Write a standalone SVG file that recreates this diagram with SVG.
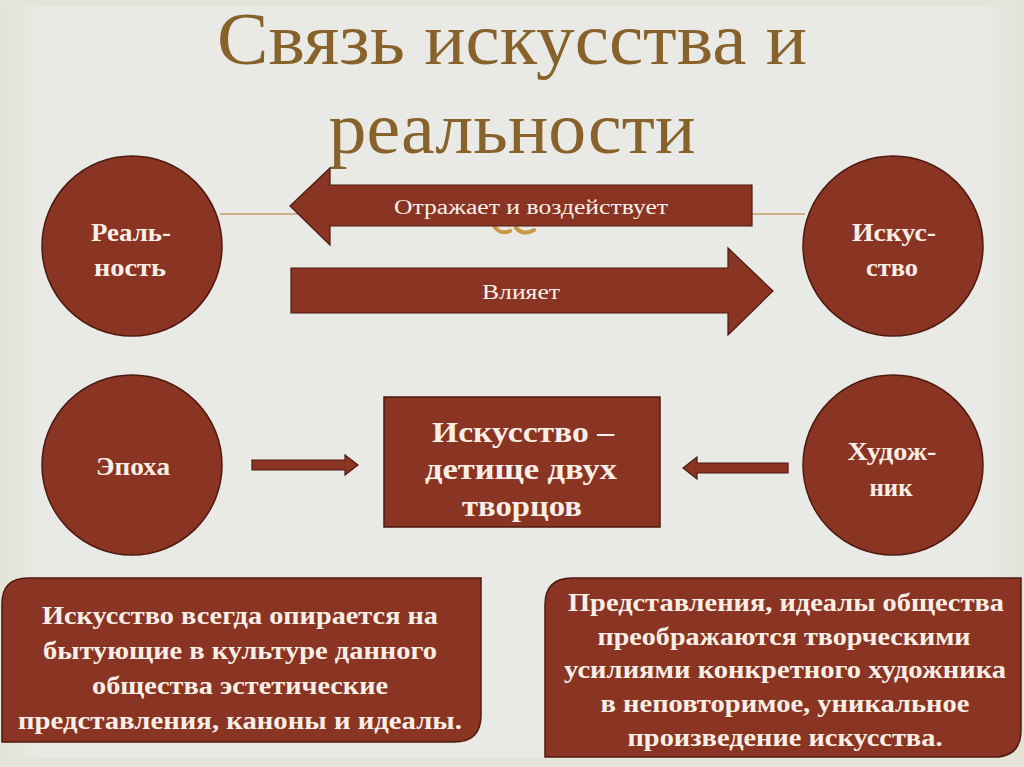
<svg xmlns="http://www.w3.org/2000/svg" width="1024" height="767" viewBox="0 0 1024 767">
<defs>
<style>
.shape{fill:#8a3524;stroke:#4e1a10;stroke-width:1.5}
.title{font-family:"Liberation Serif",serif;fill:#87622b;font-size:74px;text-anchor:middle}
.lbl{font-family:"Liberation Serif",serif;fill:#f7efe6;text-anchor:middle}
.b{font-weight:bold}
.conn{fill:#8a3524;stroke:#4e1a10;stroke-width:1.2}
</style>
<linearGradient id="frame" x1="0" y1="0" x2="1" y2="0">
<stop offset="0" stop-color="#e3e3d6"/>
<stop offset="0.04" stop-color="#e9e9e6"/>
<stop offset="0.96" stop-color="#e9e9e6"/>
<stop offset="1" stop-color="#e2e2d6"/>
</linearGradient>
</defs>
<rect x="0" y="0" width="1024" height="767" fill="url(#frame)"/>
<rect x="0" y="0" width="1024" height="6" fill="#e4e4d8"/>
<rect x="0" y="758" width="1024" height="9" fill="#e4e4d8"/>

<g id="title">
<text class="title" x="512" y="64" textLength="590" lengthAdjust="spacingAndGlyphs">Связь искусства и</text>
<text class="title" x="512" y="153" textLength="367" lengthAdjust="spacingAndGlyphs">реальности</text>
</g>

<g id="decor">
<line x1="220" y1="214" x2="805" y2="214" stroke="#cbb08a" stroke-width="2"/>
<path d="M494 226 q6 9 16 5 M516 228 q8 8 18 2" fill="none" stroke="#c99a45" stroke-width="4" stroke-linecap="round"/>
</g>

<g id="connectors">
<g id="arrow-reflects">
<polygon class="conn" points="290,206 330,168 330,185 752,185 752,226 330,226 330,245"/>
<text class="lbl" x="531" y="214" font-size="20" textLength="274" lengthAdjust="spacingAndGlyphs">Отражает и воздействует</text>
</g>
<g id="arrow-influences">
<polygon class="conn" points="291,268 728,268 728,248 773,291 728,335 728,313 291,313"/>
<text class="lbl" x="521" y="299" font-size="20" textLength="78" lengthAdjust="spacingAndGlyphs">Влияет</text>
</g>
<polygon id="arrow-epoch" class="conn" points="252,460 345,460 345,455 358,465 345,475 345,470 252,470"/>
<polygon id="arrow-artist" class="conn" points="788,463 697,463 697,457 683,468 697,479 697,473 788,473"/>
</g>

<g id="node-reality">
<circle class="shape" cx="132" cy="246" r="90"/>
<text class="lbl b" x="131" y="241" font-size="26" textLength="80" lengthAdjust="spacingAndGlyphs">Реаль-</text>
<text class="lbl b" x="130" y="276" font-size="26" textLength="72" lengthAdjust="spacingAndGlyphs">ность</text>
</g>

<g id="node-art">
<circle class="shape" cx="893" cy="246" r="90"/>
<text class="lbl b" x="894" y="241" font-size="26" textLength="84" lengthAdjust="spacingAndGlyphs">Искус-</text>
<text class="lbl b" x="892" y="276" font-size="26" textLength="52" lengthAdjust="spacingAndGlyphs">ство</text>
</g>

<g id="node-epoch">
<ellipse class="shape" cx="132" cy="465" rx="90" ry="90"/>
<text class="lbl b" x="133" y="475" font-size="26" textLength="74" lengthAdjust="spacingAndGlyphs">Эпоха</text>
</g>

<g id="node-artist">
<ellipse class="shape" cx="893" cy="465" rx="90" ry="90"/>
<text class="lbl b" x="892" y="460" font-size="26" textLength="89" lengthAdjust="spacingAndGlyphs">Худож-</text>
<text class="lbl b" x="891" y="496" font-size="26" textLength="43" lengthAdjust="spacingAndGlyphs">ник</text>
</g>

<g id="node-center">
<rect class="shape" x="384" y="397" width="276" height="130"/>
<text class="lbl b" x="523" y="442" font-size="30" textLength="182" lengthAdjust="spacingAndGlyphs">Искусство –</text>
<text class="lbl b" x="521" y="479" font-size="30" textLength="192" lengthAdjust="spacingAndGlyphs">детище двух</text>
<text class="lbl b" x="522" y="516" font-size="30" textLength="120" lengthAdjust="spacingAndGlyphs">творцов</text>
</g>

<g id="note-left">
<path class="shape" d="M28,578 H481 V715 Q481,742 454,742 H2 V604 Q2,578 28,578 Z"/>
<text class="lbl b" x="240" y="624" font-size="25" textLength="396" lengthAdjust="spacingAndGlyphs">Искусство всегда опирается на</text>
<text class="lbl b" x="240" y="659" font-size="25" textLength="394" lengthAdjust="spacingAndGlyphs">бытующие в культуре данного</text>
<text class="lbl b" x="240" y="694" font-size="25" textLength="296" lengthAdjust="spacingAndGlyphs">общества эстетические</text>
<text class="lbl b" x="240" y="729" font-size="25" textLength="444" lengthAdjust="spacingAndGlyphs">представления, каноны и идеалы.</text>
</g>

<g id="note-right">
<path class="shape" d="M572,578 H1021 V730 Q1021,757 994,757 H545 V605 Q545,578 572,578 Z"/>
<text class="lbl b" x="786" y="611" font-size="25" textLength="436" lengthAdjust="spacingAndGlyphs">Представления, идеалы общества</text>
<text class="lbl b" x="784" y="645" font-size="25" textLength="373" lengthAdjust="spacingAndGlyphs">преображаются творческими</text>
<text class="lbl b" x="785" y="678" font-size="25" textLength="442" lengthAdjust="spacingAndGlyphs">усилиями конкретного художника</text>
<text class="lbl b" x="785" y="712" font-size="25" textLength="369" lengthAdjust="spacingAndGlyphs">в неповторимое, уникальное</text>
<text class="lbl b" x="785" y="746" font-size="25" textLength="315" lengthAdjust="spacingAndGlyphs">произведение искусства.</text>
</g>
</svg>
